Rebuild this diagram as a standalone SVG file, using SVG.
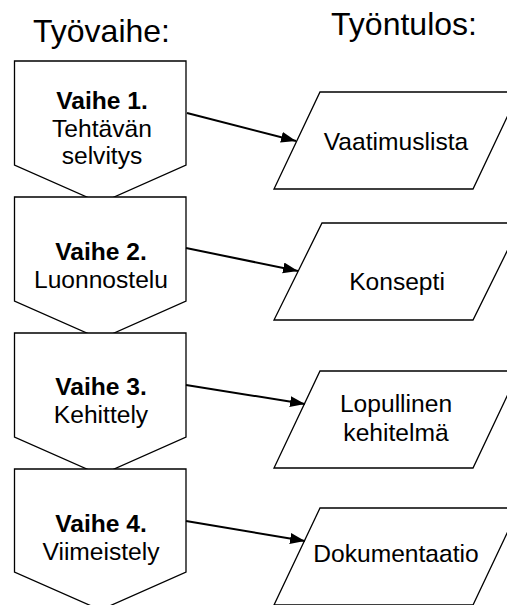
<svg xmlns="http://www.w3.org/2000/svg" width="507" height="605" viewBox="0 0 507 605">
<style>
.shape{fill:#fff;stroke:#000;stroke-width:1.3;stroke-linejoin:miter}
.t{font-family:"Liberation Sans",Arial,sans-serif;font-size:24.6px;fill:#000;text-anchor:middle}
.b{font-weight:bold}
.h{font-family:"Liberation Sans",Arial,sans-serif;font-size:32px;fill:#000;text-anchor:middle}
.conn{stroke:#000;stroke-width:2;fill:none}
</style>
<defs>
<marker id="ah" markerUnits="userSpaceOnUse" markerWidth="16" markerHeight="12" refX="15" refY="5.5" orient="auto">
<path d="M0,0 L15,5.5 L0,11 z" fill="#000"/>
</marker>
</defs>
<rect width="507" height="605" fill="#fff"/>
<g id="headers">
<text class="h" x="101.5" y="42">Työvaihe:</text>
<text class="h" x="404" y="35">Työntulos:</text>
</g>
<g id="vaihe1">
<polygon class="shape" points="14.5,61 186,61 186,165 100.5,203 14.5,165"/>
<text class="t b" x="102" y="109">Vaihe 1.</text>
<text class="t" x="102" y="137">Tehtävän</text>
<text class="t" x="102" y="164">selvitys</text>
</g>
<g id="vaihe2">
<polygon class="shape" points="14.5,197 186,197 186,301 100.5,339 14.5,301"/>
<text class="t b" x="101" y="260">Vaihe 2.</text>
<text class="t" x="101" y="288">Luonnostelu</text>
</g>
<g id="vaihe3">
<polygon class="shape" points="14.5,333 186,333 186,437 100.5,475 14.5,437"/>
<text class="t b" x="101" y="395">Vaihe 3.</text>
<text class="t" x="101" y="423">Kehittely</text>
</g>
<g id="vaihe4">
<polygon class="shape" points="14.5,469 186,469 186,572 100.5,610 14.5,572"/>
<text class="t b" x="101" y="532">Vaihe 4.</text>
<text class="t" x="101" y="560">Viimeistely</text>
</g>
<g id="vaatimuslista">
<polygon class="shape" points="320,92 519,92 473,189 274,189"/>
<text class="t" x="396" y="150">Vaatimuslista</text>
</g>
<g id="konsepti">
<polygon class="shape" points="322,223 521,223 473,320 274,320"/>
<text class="t" x="397" y="290">Konsepti</text>
</g>
<g id="lopullinen">
<polygon class="shape" points="320,371 519,371 473,468 274,468"/>
<text class="t" x="396" y="412">Lopullinen</text>
<text class="t" x="396" y="441">kehitelmä</text>
</g>
<g id="dokumentaatio">
<polygon class="shape" points="320,508 519,508 473,605 274,605"/>
<text class="t" x="396" y="562">Dokumentaatio</text>
</g>
<g id="connectors">
<line class="conn" x1="187" y1="113" x2="296" y2="141" marker-end="url(#ah)"/>
<line class="conn" x1="186" y1="248" x2="298" y2="271" marker-end="url(#ah)"/>
<line class="conn" x1="186" y1="385" x2="305" y2="404" marker-end="url(#ah)"/>
<line class="conn" x1="186" y1="521" x2="305" y2="541" marker-end="url(#ah)"/>
</g>
</svg>
